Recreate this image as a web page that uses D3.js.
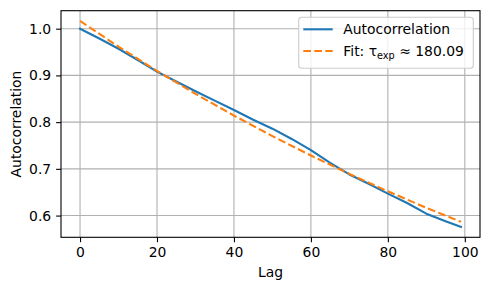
<!DOCTYPE html>
<html>
<head>
<meta charset="utf-8">
<script src="https://cdn.jsdelivr.net/npm/d3@7"></script>
<style>
  body { margin: 0; background: #fff; }
  svg { display: block; font-family: "DejaVu Sans", sans-serif; }
</style>
</head>
<body>
<div id="chart"></div>
<script>
// autocorrelation (every 5 lags)
const acfLags = [0, 5, 10, 15, 20, 25, 30, 35, 40, 45, 50, 55, 60, 65, 70, 75, 80, 85, 90, 95, 99];
const acfValues = [1.0, 0.979, 0.957, 0.933, 0.908, 0.887, 0.866, 0.846, 0.826, 0.805, 0.786,
  0.764, 0.740, 0.713, 0.688, 0.668, 0.647, 0.627, 0.604, 0.588, 0.576];

// exponential fit curve
const fitLags = [0, 10, 20, 30, 40, 50, 60, 70, 80, 90, 99];
const fitValues = [1.0165, 0.9616, 0.9097, 0.8605, 0.814, 0.7701, 0.7285, 0.6892, 0.6519, 0.6167, 0.5866];

const xTicks = [0, 20, 40, 60, 80, 100];
const yTicks = [0.6, 0.7, 0.8, 0.9, 1.0];
const tauLabel = "180.09";

const W = 490, H = 290;
const FS = "13.9px";
const margin = { top: 10.7, right: 10, bottom: 52.7, left: 61 };
const width = W - margin.left - margin.right;
const height = H - margin.top - margin.bottom;

const svg = d3.select("#chart").append("svg").attr("width", W).attr("height", H);
const g = svg.append("g").attr("transform", `translate(${margin.left},${margin.top})`);

const x = d3.scaleLinear().domain([-4.95, 103.95]).range([0, width]);
const y = d3.scaleLinear().domain([0.5535, 1.0385]).range([height, 0]);

// grid
g.append("g")
  .selectAll("line")
  .data(xTicks)
  .join("line")
  .attr("x1", (d) => x(d)).attr("x2", (d) => x(d))
  .attr("y1", 0).attr("y2", height)
  .attr("stroke", "#b0b0b0").attr("stroke-width", 1.1);

g.append("g")
  .selectAll("line")
  .data(yTicks)
  .join("line")
  .attr("y1", (d) => y(d)).attr("y2", (d) => y(d))
  .attr("x1", 0).attr("x2", width)
  .attr("stroke", "#b0b0b0").attr("stroke-width", 1.1);

// axes
const xAxis = g.append("g")
  .attr("transform", `translate(0,${height})`)
  .call(d3.axisBottom(x).tickValues(xTicks).tickSize(4.9).tickPadding(4.9).tickFormat(d3.format("d")));
const yAxis = g.append("g")
  .call(d3.axisLeft(y).tickValues(yTicks).tickSize(4.9).tickPadding(4.9).tickFormat(d3.format(".1f")));

[xAxis, yAxis].forEach((a) => {
  a.select(".domain").remove();
  a.selectAll(".tick line").attr("stroke", "#000").attr("stroke-width", 1.1);
  a.selectAll(".tick text").attr("fill", "#000").style("font-size", FS)
    .style("font-family", "DejaVu Sans, sans-serif");
});

// lines
const line = d3.line().x((d) => x(d[0])).y((d) => y(d[1]));

g.append("path")
  .datum(d3.zip(acfLags, acfValues))
  .attr("fill", "none")
  .attr("stroke", "#1f77b4")
  .attr("stroke-width", 2.1)
  .attr("stroke-linejoin", "round")
  .attr("stroke-linecap", "square")
  .attr("d", line);

g.append("path")
  .datum(d3.zip(fitLags, fitValues))
  .attr("fill", "none")
  .attr("stroke", "#ff7f0e")
  .attr("stroke-width", 2.1)
  .attr("stroke-dasharray", "7.7,3.3")
  .attr("d", line);

// frame
g.append("rect")
  .attr("width", width).attr("height", height)
  .attr("fill", "none").attr("stroke", "#000").attr("stroke-width", 1.1);

// axis labels
svg.append("text")
  .attr("x", margin.left + width / 2)
  .attr("y", 277)
  .attr("text-anchor", "middle")
  .style("font-size", FS)
  .text("Lag");

svg.append("text")
  .attr("transform", `translate(21,${margin.top + height / 2}) rotate(-90)`)
  .attr("text-anchor", "middle")
  .style("font-size", FS)
  .text("Autocorrelation");

// legend
const leg = svg.append("g").attr("transform", "translate(298.7,17.3)");
leg.append("rect")
  .attr("width", 174.6).attr("height", 51)
  .attr("rx", 3)
  .attr("fill", "#fff").attr("fill-opacity", 0.8)
  .attr("stroke", "#cccccc").attr("stroke-width", 1.1);

leg.append("line")
  .attr("x1", 4.6).attr("x2", 34).attr("y1", 12).attr("y2", 12)
  .attr("stroke", "#1f77b4").attr("stroke-width", 2.1);
leg.append("text")
  .attr("x", 44.6).attr("y", 12).attr("dy", "0.35em")
  .style("font-size", FS)
  .text("Autocorrelation");

leg.append("line")
  .attr("x1", 4.6).attr("x2", 34).attr("y1", 33.7).attr("y2", 33.7)
  .attr("stroke", "#ff7f0e").attr("stroke-width", 2.1)
  .attr("stroke-dasharray", "7.7,3.3");
const fitText = leg.append("text")
  .attr("x", 44.6).attr("y", 33.7).attr("dy", "0.35em")
  .style("font-size", FS);
fitText.append("tspan").text("Fit: τ");
fitText.append("tspan").attr("dy", "3").style("font-size", "9.7px").text("exp");
fitText.append("tspan").attr("dy", "-3").text(" ≈ " + tauLabel);
</script>
</body>
</html>
